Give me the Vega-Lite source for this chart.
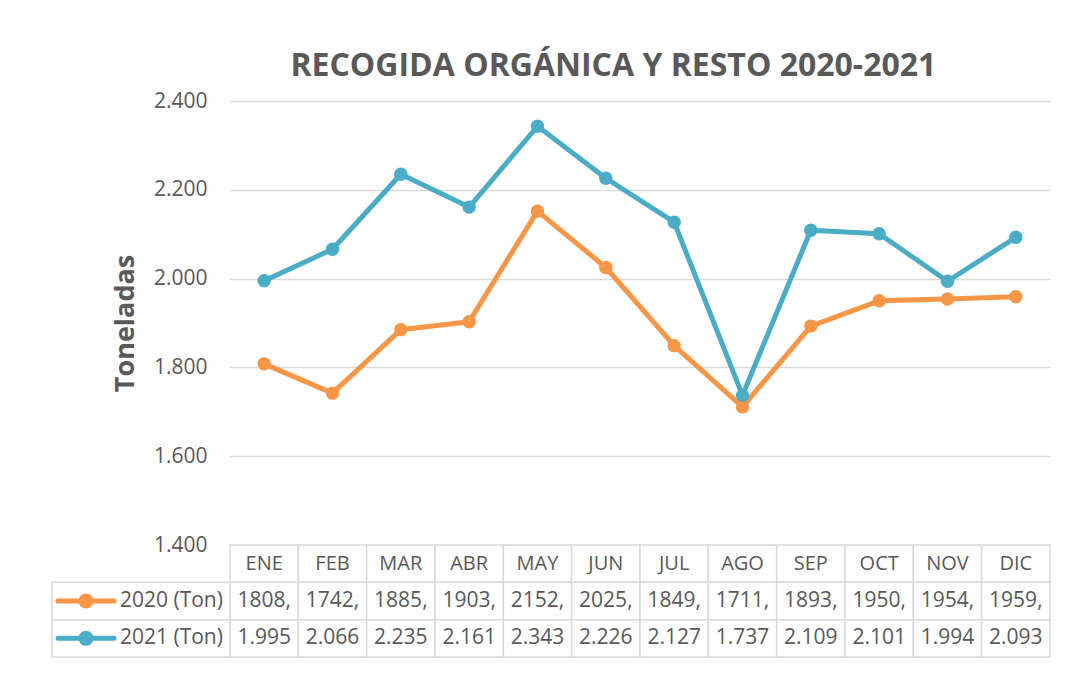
{
  "$schema": "https://vega.github.io/schema/vega-lite/v6.json",
  "background": "white",
  "padding": {"left": 47, "top": 50, "right": 30, "bottom": 26},
  "config": {
    "locale": {"number": {"decimal": ",", "thousands": ".", "grouping": [3], "currency": ["", " €"]}},
    "view": {"stroke": null},
    "font": "Open Sans"
  },
  "title": {
    "text": "RECOGIDA ORGÁNICA Y RESTO 2020-2021",
    "font": "Open Sans",
    "fontSize": 32,
    "fontWeight": "bold",
    "color": "#595959",
    "anchor": "middle",
    "dx": 64,
    "offset": 7
  },
  "datasets": {
    "datos": [
      {"mes": "ENE", "serie": "2020 (Ton)", "ton": 1808, "etiqueta": "1808,"},
      {"mes": "FEB", "serie": "2020 (Ton)", "ton": 1742, "etiqueta": "1742,"},
      {"mes": "MAR", "serie": "2020 (Ton)", "ton": 1885, "etiqueta": "1885,"},
      {"mes": "ABR", "serie": "2020 (Ton)", "ton": 1903, "etiqueta": "1903,"},
      {"mes": "MAY", "serie": "2020 (Ton)", "ton": 2152, "etiqueta": "2152,"},
      {"mes": "JUN", "serie": "2020 (Ton)", "ton": 2025, "etiqueta": "2025,"},
      {"mes": "JUL", "serie": "2020 (Ton)", "ton": 1849, "etiqueta": "1849,"},
      {"mes": "AGO", "serie": "2020 (Ton)", "ton": 1711, "etiqueta": "1711,"},
      {"mes": "SEP", "serie": "2020 (Ton)", "ton": 1893, "etiqueta": "1893,"},
      {"mes": "OCT", "serie": "2020 (Ton)", "ton": 1950, "etiqueta": "1950,"},
      {"mes": "NOV", "serie": "2020 (Ton)", "ton": 1954, "etiqueta": "1954,"},
      {"mes": "DIC", "serie": "2020 (Ton)", "ton": 1959, "etiqueta": "1959,"},
      {"mes": "ENE", "serie": "2021 (Ton)", "ton": 1995, "etiqueta": "1.995"},
      {"mes": "FEB", "serie": "2021 (Ton)", "ton": 2066, "etiqueta": "2.066"},
      {"mes": "MAR", "serie": "2021 (Ton)", "ton": 2235, "etiqueta": "2.235"},
      {"mes": "ABR", "serie": "2021 (Ton)", "ton": 2161, "etiqueta": "2.161"},
      {"mes": "MAY", "serie": "2021 (Ton)", "ton": 2343, "etiqueta": "2.343"},
      {"mes": "JUN", "serie": "2021 (Ton)", "ton": 2226, "etiqueta": "2.226"},
      {"mes": "JUL", "serie": "2021 (Ton)", "ton": 2127, "etiqueta": "2.127"},
      {"mes": "AGO", "serie": "2021 (Ton)", "ton": 1737, "etiqueta": "1.737"},
      {"mes": "SEP", "serie": "2021 (Ton)", "ton": 2109, "etiqueta": "2.109"},
      {"mes": "OCT", "serie": "2021 (Ton)", "ton": 2101, "etiqueta": "2.101"},
      {"mes": "NOV", "serie": "2021 (Ton)", "ton": 1994, "etiqueta": "1.994"},
      {"mes": "DIC", "serie": "2021 (Ton)", "ton": 2093, "etiqueta": "2.093"}
    ]
  },
  "columns": 2,
  "spacing": 0,
  "bounds": "flush",
  "concat": [
    {
      "width": 178,
      "height": 444,
      "data": {"values": []},
      "mark": {"type": "text"},
      "encoding": {"text": {"value": ""}}
    },
    {
      "width": 820,
      "height": 444,
      "data": {"name": "datos"},
      "encoding": {
        "x": {
          "field": "mes",
          "type": "nominal",
          "sort": ["ENE", "FEB", "MAR", "ABR", "MAY", "JUN", "JUL", "AGO", "SEP", "OCT", "NOV", "DIC"],
          "scale": {"type": "point", "padding": 0.5},
          "axis": null
        },
        "y": {
          "field": "ton",
          "type": "quantitative",
          "scale": {"domain": [1400, 2400], "nice": false, "zero": false},
          "axis": {
            "values": [1400, 1600, 1800, 2000, 2200, 2400],
            "format": ",.0f",
            "title": "Toneladas",
            "titleFont": "Open Sans",
            "titleFontSize": 27,
            "titleFontWeight": "bold",
            "titleColor": "#595959",
            "titlePadding": 14,
            "labelFont": "Open Sans",
            "labelFontSize": 21,
            "labelColor": "#595959",
            "labelPadding": 23,
            "ticks": false,
            "domain": false,
            "grid": true,
            "gridColor": "#D9D9D9",
            "gridWidth": 1.5
          }
        },
        "color": {
          "field": "serie",
          "type": "nominal",
          "scale": {"domain": ["2020 (Ton)", "2021 (Ton)"], "range": ["#F79646", "#4BACC6"]},
          "legend": null
        }
      },
      "layer": [
        {"mark": {"type": "line", "strokeWidth": 5, "strokeCap": "round", "strokeJoin": "round"}},
        {"mark": {"type": "point", "filled": true, "size": 180, "opacity": 1}}
      ]
    },
    {
      "width": 178,
      "height": 112,
      "data": {"name": "datos"},
      "transform": [{"aggregate": [{"op": "count", "as": "n"}], "groupby": ["serie"]}],
      "encoding": {
        "y": {
          "field": "serie",
          "type": "nominal",
          "scale": {"domain": ["MES", "2020 (Ton)", "2021 (Ton)"], "paddingInner": 0, "paddingOuter": 0},
          "axis": null
        }
      },
      "layer": [
        {"mark": {"type": "rect", "fill": "white", "stroke": "#D9D9D9", "strokeWidth": 1.5}},
        {
          "mark": {
            "type": "point",
            "shape": "M-1,0H1M-0.18,0A0.18,0.18 0 1,1 0.18,0A0.18,0.18 0 1,1 -0.18,0Z",
            "size": 3136,
            "filled": true,
            "strokeWidth": 5,
            "strokeCap": "round",
            "opacity": 1
          },
          "encoding": {
            "x": {
              "datum": "símbolo",
              "type": "nominal",
              "bandPosition": 0.5,
              "scale": {"type": "band", "domain": ["símbolo", "serie"], "paddingInner": 0, "paddingOuter": 0.309, "align": 0},
              "axis": null
            },
            "color": {"field": "serie", "type": "nominal", "legend": null},
            "stroke": {
              "field": "serie",
              "type": "nominal",
              "scale": {"domain": ["2020 (Ton)", "2021 (Ton)"], "range": ["#F79646", "#4BACC6"]},
              "legend": null
            }
          }
        },
        {
          "mark": {"type": "text", "fontSize": 21, "font": "Open Sans", "color": "#595959", "align": "left", "baseline": "middle"},
          "encoding": {
            "x": {"datum": "serie", "type": "nominal", "bandPosition": 0},
            "text": {"field": "serie"}
          }
        }
      ]
    },
    {
      "width": 820,
      "height": 112,
      "data": {"name": "datos"},
      "encoding": {
        "x": {
          "field": "mes",
          "type": "nominal",
          "sort": ["ENE", "FEB", "MAR", "ABR", "MAY", "JUN", "JUL", "AGO", "SEP", "OCT", "NOV", "DIC"],
          "scale": {"type": "band", "paddingInner": 0, "paddingOuter": 0},
          "axis": null
        }
      },
      "layer": [
        {
          "transform": [{"filter": "datum.serie === '2020 (Ton)'"}],
          "mark": {"type": "rect", "fill": "white", "stroke": "#D9D9D9", "strokeWidth": 1.5},
          "encoding": {
            "y": {
              "datum": "MES",
              "type": "nominal",
              "scale": {"domain": ["MES", "2020 (Ton)", "2021 (Ton)"], "paddingInner": 0, "paddingOuter": 0},
              "axis": null
            }
          }
        },
        {
          "transform": [{"filter": "datum.serie === '2020 (Ton)'"}],
          "mark": {"type": "text", "fontSize": 20, "font": "Open Sans", "color": "#595959", "baseline": "middle"},
          "encoding": {
            "y": {"datum": "MES", "type": "nominal"},
            "text": {"field": "mes"}
          }
        },
        {
          "mark": {"type": "rect", "fill": "white", "stroke": "#D9D9D9", "strokeWidth": 1.5},
          "encoding": {"y": {"field": "serie", "type": "nominal"}}
        },
        {
          "mark": {"type": "text", "fontSize": 21, "font": "Open Sans", "color": "#595959", "baseline": "middle"},
          "encoding": {
            "y": {"field": "serie", "type": "nominal"},
            "text": {"field": "etiqueta"}
          }
        }
      ]
    }
  ]
}
